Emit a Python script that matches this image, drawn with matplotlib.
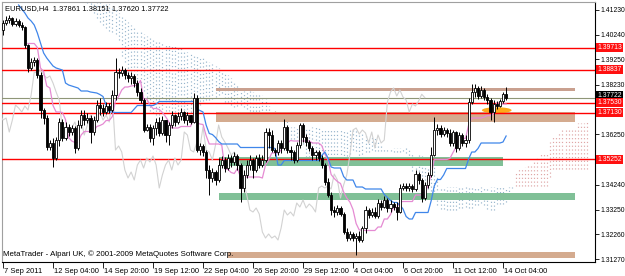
import numpy as np
import pandas as pd
import matplotlib
matplotlib.use("Agg")
import matplotlib.pyplot as plt
from matplotlib.patches import Ellipse, Rectangle
import matplotlib.transforms as mtransforms

# ---------------- data (EURUSD H4, 7 Sep 2011 .. 14 Oct 2011) ----------------
opens = [1.4043, 1.4071, 1.4083, 1.4091, 1.4067, 1.4079, 1.4063, 1.4055, 1.3983, 1.3891,
         1.3915, 1.3923, 1.3863, 1.3723, 1.3691, 1.3575, 1.3591, 1.3531, 1.3603, 1.3675,
         1.3611, 1.3655, 1.3635, 1.3651, 1.3571, 1.3663, 1.3703, 1.3683, 1.3691, 1.3635,
         1.3683, 1.3743, 1.3731, 1.3715, 1.3739, 1.3723, 1.3783, 1.3875, 1.3871, 1.3883,
         1.3863, 1.3851, 1.3859, 1.3831, 1.3795, 1.3763, 1.3643, 1.3655, 1.3611, 1.3651,
         1.3675, 1.3631, 1.3683, 1.3623, 1.3663, 1.3703, 1.3675, 1.3699, 1.3715, 1.3683,
         1.3703, 1.3675, 1.3771, 1.3563, 1.3579, 1.3555, 1.3483, 1.3451, 1.3475, 1.3443,
         1.3503, 1.3523, 1.3491, 1.3531, 1.3515, 1.3539, 1.3503, 1.3411, 1.3463, 1.3503,
         1.3523, 1.3483, 1.3531, 1.3503, 1.3523, 1.3635, 1.3623, 1.3563, 1.3555, 1.3591,
         1.3571, 1.3655, 1.3563, 1.3555, 1.3523, 1.3583, 1.3663, 1.3615, 1.3595, 1.3571,
         1.3543, 1.3555, 1.3531, 1.3503, 1.3435, 1.3383, 1.3323, 1.3315, 1.3331, 1.3307,
         1.3235, 1.3211, 1.3227, 1.3211, 1.3219, 1.3203, 1.3251, 1.3323, 1.3303, 1.3315,
         1.3299, 1.3351, 1.3335, 1.3363, 1.3331, 1.3347, 1.3335, 1.3315, 1.3411, 1.3419,
         1.3411, 1.3419, 1.3407, 1.3467, 1.3443, 1.3371, 1.3423, 1.3463, 1.3543, 1.3643,
         1.3651, 1.3627, 1.3643, 1.3631, 1.3591, 1.3635, 1.3571, 1.3623, 1.3591, 1.3603,
         1.3755, 1.3795, 1.3811, 1.3779, 1.3803, 1.3775, 1.3763, 1.3715, 1.3747, 1.3739,
         1.3759, 1.37861]

highs = [1.4083, 1.4099, 1.4103, 1.4095, 1.4091, 1.4087, 1.4075, 1.4059, 1.3987, 1.3931,
         1.3935, 1.3931, 1.3875, 1.3731, 1.3703, 1.3603, 1.3611, 1.3615, 1.3691, 1.3687,
         1.3675, 1.3667, 1.3663, 1.3659, 1.3683, 1.3723, 1.3723, 1.3711, 1.3703, 1.3699,
         1.3763, 1.3771, 1.3747, 1.3755, 1.3751, 1.3803, 1.3931, 1.3891, 1.3899, 1.3891,
         1.3875, 1.3875, 1.3867, 1.3843, 1.3811, 1.3771, 1.3667, 1.3667, 1.3663, 1.3691,
         1.3695, 1.3699, 1.3683, 1.3675, 1.3719, 1.3707, 1.3715, 1.3731, 1.3719, 1.3715,
         1.3703, 1.3791, 1.3783, 1.3591, 1.3587, 1.3563, 1.3503, 1.3491, 1.3483, 1.3531,
         1.3539, 1.3535, 1.3547, 1.3543, 1.3555, 1.3547, 1.3511, 1.3483, 1.3523, 1.3543,
         1.3531, 1.3543, 1.3547, 1.3543, 1.3651, 1.3651, 1.3643, 1.3571, 1.3603, 1.3603,
         1.3687, 1.3663, 1.3579, 1.3563, 1.3595, 1.3671, 1.3671, 1.3627, 1.3603, 1.3579,
         1.3563, 1.3563, 1.3543, 1.3511, 1.3451, 1.3395, 1.3339, 1.3343, 1.3339, 1.3315,
         1.3251, 1.3239, 1.3235, 1.3231, 1.3239, 1.3259, 1.3339, 1.3331, 1.3331, 1.3335,
         1.3367, 1.3363, 1.3379, 1.3371, 1.3363, 1.3355, 1.3355, 1.3427, 1.3431, 1.3431,
         1.3431, 1.3427, 1.3483, 1.3475, 1.3451, 1.3435, 1.3475, 1.3575, 1.3695, 1.3667,
         1.3663, 1.3655, 1.3651, 1.3647, 1.3643, 1.3639, 1.3635, 1.3631, 1.3623, 1.3771,
         1.3827, 1.3827, 1.3819, 1.3819, 1.3811, 1.3787, 1.3771, 1.3763, 1.3759, 1.3767,
         1.3795, 1.38151]

lows = [1.4023, 1.4063, 1.4071, 1.4059, 1.4059, 1.4055, 1.4043, 1.3971, 1.3875, 1.3883,
        1.3899, 1.3851, 1.3691, 1.3667, 1.3563, 1.3563, 1.3495, 1.3523, 1.3579, 1.3599,
        1.3603, 1.3619, 1.3623, 1.3551, 1.3563, 1.3651, 1.3663, 1.3671, 1.3591, 1.3623,
        1.3675, 1.3703, 1.3699, 1.3707, 1.3711, 1.3715, 1.3763, 1.3851, 1.3859, 1.3847,
        1.3835, 1.3827, 1.3815, 1.3779, 1.3751, 1.3635, 1.3639, 1.3595, 1.3583, 1.3623,
        1.3619, 1.3623, 1.3595, 1.3583, 1.3651, 1.3659, 1.3667, 1.3683, 1.3671, 1.3663,
        1.3667, 1.3671, 1.3555, 1.3543, 1.3539, 1.3451, 1.3383, 1.3435, 1.3423, 1.3435,
        1.3491, 1.3475, 1.3483, 1.3495, 1.3503, 1.3483, 1.3355, 1.3395, 1.3451, 1.3483,
        1.3451, 1.3475, 1.3491, 1.3495, 1.3515, 1.3571, 1.3555, 1.3539, 1.3543, 1.3551,
        1.3563, 1.3551, 1.3523, 1.3511, 1.3515, 1.3571, 1.3595, 1.3579, 1.3559, 1.3523,
        1.3523, 1.3519, 1.3491, 1.3423, 1.3375, 1.3303, 1.3295, 1.3303, 1.3299, 1.3227,
        1.3199, 1.3203, 1.3199, 1.3143, 1.3195, 1.3195, 1.3231, 1.3291, 1.3295, 1.3291,
        1.3291, 1.3323, 1.3331, 1.3315, 1.3315, 1.3323, 1.3283, 1.3311, 1.3403, 1.3399,
        1.3399, 1.3395, 1.3399, 1.3427, 1.3355, 1.3363, 1.3411, 1.3455, 1.3539, 1.3623,
        1.3615, 1.3619, 1.3615, 1.3579, 1.3579, 1.3555, 1.3563, 1.3579, 1.3575, 1.3591,
        1.3747, 1.3775, 1.3767, 1.3771, 1.3763, 1.3747, 1.3683, 1.3675, 1.3727, 1.3735,
        1.3751, 1.3762]

closes = [1.4071, 1.4083, 1.4091, 1.4067, 1.4079, 1.4063, 1.4055, 1.3983, 1.3891, 1.3915,
          1.3923, 1.3863, 1.3723, 1.3691, 1.3575, 1.3591, 1.3531, 1.3603, 1.3675, 1.3611,
          1.3655, 1.3635, 1.3651, 1.3571, 1.3663, 1.3703, 1.3683, 1.3691, 1.3635, 1.3683,
          1.3743, 1.3731, 1.3715, 1.3739, 1.3723, 1.3783, 1.3875, 1.3871, 1.3883, 1.3863,
          1.3851, 1.3859, 1.3831, 1.3795, 1.3763, 1.3643, 1.3655, 1.3611, 1.3651, 1.3675,
          1.3631, 1.3683, 1.3623, 1.3663, 1.3703, 1.3675, 1.3699, 1.3715, 1.3683, 1.3703,
          1.3675, 1.3771, 1.3563, 1.3579, 1.3555, 1.3483, 1.3451, 1.3475, 1.3443, 1.3503,
          1.3523, 1.3491, 1.3531, 1.3515, 1.3539, 1.3503, 1.3411, 1.3463, 1.3503, 1.3523,
          1.3483, 1.3531, 1.3503, 1.3523, 1.3635, 1.3623, 1.3563, 1.3555, 1.3591, 1.3571,
          1.3655, 1.3563, 1.3555, 1.3523, 1.3583, 1.3663, 1.3615, 1.3595, 1.3571, 1.3543,
          1.3555, 1.3531, 1.3503, 1.3435, 1.3383, 1.3323, 1.3315, 1.3331, 1.3307, 1.3235,
          1.3211, 1.3227, 1.3211, 1.3219, 1.3203, 1.3251, 1.3323, 1.3303, 1.3315, 1.3299,
          1.3351, 1.3335, 1.3363, 1.3331, 1.3347, 1.3335, 1.3315, 1.3411, 1.3419, 1.3411,
          1.3419, 1.3407, 1.3467, 1.3443, 1.3371, 1.3423, 1.3463, 1.3543, 1.3643, 1.3651,
          1.3627, 1.3643, 1.3631, 1.3591, 1.3635, 1.3571, 1.3623, 1.3591, 1.3603, 1.3755,
          1.3795, 1.3811, 1.3779, 1.3803, 1.3775, 1.3763, 1.3715, 1.3747, 1.3739, 1.3759,
          1.3786, 1.37722]

# Kijun-sen as drawn before a full 26-bar window exists on the chart (bars 5..24)
kijun_early = [1.4143, 1.4127, 1.4111, 1.4091, 1.4079, 1.4063, 1.4031, 1.3991, 1.3951, 1.3931,
               1.3915, 1.3899, 1.3891, 1.3887, 1.3883, 1.3831, 1.3823, 1.3819, 1.3815, 1.3811]
# Senkou span A / B edges of the cloud in its early part (from bar 27 on)
span_a_early = [1.4151, 1.4131, 1.4111, 1.4091, 1.4075, 1.4063, 1.4051]
span_b_early = [1.4203, 1.4195, 1.4187, 1.4179, 1.4171, 1.4163, 1.4155,
                1.4147, 1.4135, 1.4123, 1.4111, 1.4099, 1.4087, 1.4075, 1.4063,
                1.4051, 1.4043, 1.4035, 1.4027, 1.4019, 1.4011, 1.4007, 1.4003, 1.3999,
                1.3995, 1.3991, 1.3987, 1.3983, 1.3979, 1.3975, 1.3971, 1.3963, 1.3955, 1.3951,
                1.3947, 1.3943, 1.3935, 1.3931, 1.3923, 1.3915, 1.3907, 1.3899, 1.3891, 1.3883,
                1.3875, 1.3863, 1.3851, 1.3839, 1.3827, 1.3811]

# horizontal levels (red lines) and their labels
red_levels = [1.39713, 1.38837, 1.37530, 1.37130, 1.35252]
red_labels = ["1.39713", "1.38837", "1.37530", "1.37130", "1.35252"]
bid_level = 1.37722

# rectangles: (start bar, end bar, low, high, colour)
zone_start = [68, 68, 69, 69, 72]
zone_end = [183, 183, 160, 183, 183]
zone_low = [1.3799, 1.3677, 1.3499, 1.3363, 1.3131]
zone_high = [1.3810, 1.3713, 1.3535, 1.3391, 1.3155]
zone_color = ["#c9a08f", "#d4ab8f", "#80c097", "#80c097", "#d4ab8f"]

# axis ticks
ytick_vals = [1.41230, 1.40240, 1.39250, 1.38230, 1.36250, 1.34240, 1.33250, 1.32260, 1.31270]
xtick_bars = [0, 16, 32, 48, 64, 80, 96, 112, 128, 144, 160]
xtick_labels = ["7 Sep 2011", "12 Sep 04:00", "14 Sep 20:00", "19 Sep 12:00", "22 Sep 04:00",
                "26 Sep 20:00", "29 Sep 12:00", "4 Oct 04:00", "6 Oct 20:00", "11 Oct 12:00",
                "14 Oct 04:00"]

title_text = "EURUSD,H4  1.37861 1.38151 1.37620 1.37722"
footer_text = "MetaTrader - Alpari UK, \u00a9 2001-2009 MetaQuotes Software Corp."

# ---------------- figure ----------------
plt.rcParams['font.family'] = ['Liberation Sans', 'DejaVu Sans']
FS = 4.9
W, H = 625, 276
fig = plt.figure(figsize=(W / 100, H / 100), dpi=100)
fig.patch.set_facecolor('white')
ax = fig.add_axes([2 / W, 14 / H, 593 / W, 260 / H])
ax.set_facecolor('white')

n = len(closes)
idx = np.arange(n)
o = np.array(opens); h = np.array(highs); l = np.array(lows); c = np.array(closes)

# Ichimoku
Hs = pd.Series(highs); Ls = pd.Series(lows)
tenkan = ((Hs.rolling(9).max() + Ls.rolling(9).min()) / 2).values
kijun = ((Hs.rolling(26).max() + Ls.rolling(26).min()) / 2).values
kijun[5:25] = kijun_early
m = n + 26
span_a = np.full(m, np.nan)
span_b = np.full(m, np.nan)
span_a[26:26 + n] = (tenkan + kijun) / 2
span_b[26:26 + n] = ((Hs.rolling(52).max() + Ls.rolling(52).min()) / 2).values
span_a[27:34] = span_a_early
span_b[27:77] = span_b_early

k = np.arange(m)
valid = ~np.isnan(span_a) & ~np.isnan(span_b)
bull = valid & (span_a >= span_b)
bear = valid & (span_a < span_b)
dot = (0, (1, 2.2))
ax.vlines(k[bull], span_b[bull], span_a[bull], colors='#dfa6a6', linestyles=[dot], lw=0.85, zorder=1)
ax.vlines(k[bear], span_a[bear], span_b[bear], colors='#97b5cc', linestyles=[dot], lw=0.85, zorder=1)

# zones
for xs, xe, lo, hi, col in zip(zone_start, zone_end, zone_low, zone_high, zone_color):
    ax.add_patch(Rectangle((xs, lo), xe - xs, hi - lo, facecolor=col, edgecolor='none', zorder=2))

# orange highlight
ax.add_patch(Ellipse((158, 1.3722), 9.5, 0.0024, facecolor='#ffa000', edgecolor='none', alpha=0.9, zorder=3))

# levels
ax.hlines(red_levels, -1, 200, colors='#ff0000', lw=1.0, zorder=3)
ax.axhline(bid_level, color='#8f9677', lw=0.8, zorder=3)

# chikou, tenkan, kijun
ax.plot(idx - 26, c, color='#d2d2d2', lw=0.8, zorder=3)
ax.plot(idx, tenkan, color='#e58bd3', lw=0.9, zorder=4)
ax.plot(idx, kijun, color='#3f86ea', lw=0.9, zorder=4)

# candles
ax.vlines(idx, l, h, color='black', lw=0.7, zorder=5)
up = c >= o
ax.bar(idx[up], (c - o)[up], bottom=o[up], width=0.68, color='white', edgecolor='black', lw=0.6, zorder=6)
ax.bar(idx[~up], (o - c)[~up], bottom=c[~up], width=0.68, color='black', edgecolor='black', lw=0.6, zorder=6)

ax.set_xlim(-0.32, 189.44)
ax.set_ylim(1.3115, 1.4155)

# axes styling
for s in ['left', 'top']:
    ax.spines[s].set_color('#a0a0a0')
    ax.spines[s].set_linewidth(0.8)
for s in ['right', 'bottom']:
    ax.spines[s].set_color('black')
    ax.spines[s].set_linewidth(0.8)

ax.yaxis.tick_right()
ax.set_yticks(ytick_vals)
ax.set_yticklabels([f"{v:.5f}" for v in ytick_vals])
ax.tick_params(axis='y', length=3, width=0.6, pad=1.2, labelsize=FS, colors='black')
ax.set_xticks(xtick_bars)
ax.set_xticklabels(xtick_labels, ha='left')
ax.tick_params(axis='x', length=4, width=0.6, pad=0.5, labelsize=5.4, colors='black')
off = mtransforms.ScaledTranslation(1.5 / 100, 0, fig.dpi_scale_trans)
for lab in ax.get_xticklabels():
    lab.set_transform(lab.get_transform() + off)

# right-side level labels
ytr = ax.get_yaxis_transform()
ax.text(1.004, bid_level + 0.0007, f"{bid_level:.5f}", transform=ytr, fontsize=FS, color='white',
        va='center', ha='left', clip_on=False, zorder=7,
        bbox=dict(boxstyle='square,pad=0.15', fc='black', ec='none'))
for lvl, txt in zip(red_levels, red_labels):
    ax.text(1.004, lvl, txt, transform=ytr, fontsize=FS, color='white', va='center', ha='left',
            clip_on=False, zorder=8, bbox=dict(boxstyle='square,pad=0.15', fc='#ff1010', ec='none'))

fig.text(5 / W, 1 - 8.5 / H, title_text, fontsize=5.4, color='black', va='center', ha='left')
fig.text(3 / W, 1 - 254.5 / H, footer_text, fontsize=5.7, color='black', va='center', ha='left', zorder=10)

fig.savefig('out.png', dpi=100, facecolor='white')
